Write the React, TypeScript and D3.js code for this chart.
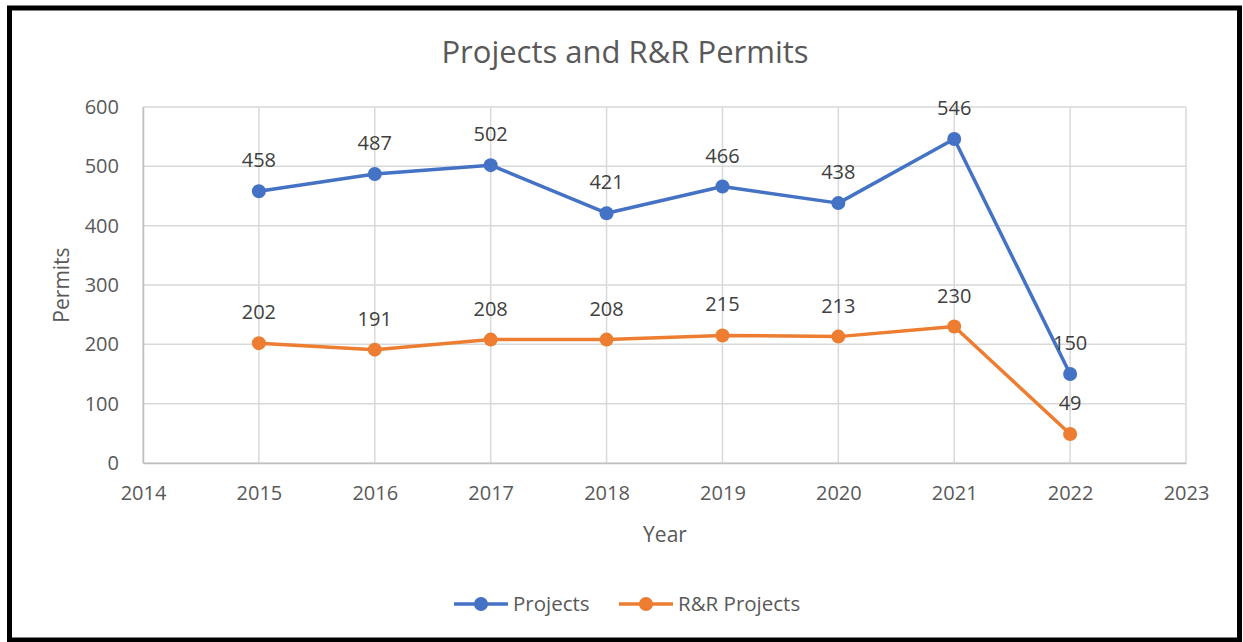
import * as d3 from "d3";
import { useEffect, useRef } from "react";

// data
const years = [2015, 2016, 2017, 2018, 2019, 2020, 2021, 2022];
const projects = [458, 487, 502, 421, 466, 438, 546, 150];
const rrProjects = [202, 191, 208, 208, 215, 213, 230, 49];
const seriesNames = ["Projects", "R&R Projects"];
const yTicks = [0, 100, 200, 300, 400, 500, 600];
const xTicks = [2014, 2015, 2016, 2017, 2018, 2019, 2020, 2021, 2022, 2023];

const W = 1243;
const H = 642;
const FONT = "'Open Sans', sans-serif";

const App = () => {
  const chartRef = useRef<SVGSVGElement | null>(null);

  useEffect(() => {
    const svg = d3.select(chartRef.current);
    svg.selectAll("*").remove();

    const margin = { top: 107, bottom: 179, left: 143, right: 57 };

    const x = d3.scaleLinear().domain([2014, 2023]).range([margin.left, W - margin.right]);
    const y = d3.scaleLinear().domain([0, 600]).range([H - margin.bottom, margin.top]);

    // background + black frame
    svg.append("rect").attr("width", W).attr("height", H).attr("fill", "white");
    svg.append("rect")
      .attr("x", 9.5).attr("y", 8).attr("width", 1230).attr("height", 632)
      .attr("fill", "none").attr("stroke", "black").attr("stroke-width", 5);

    // grid
    const grid = svg.append("g");
    grid.selectAll(".hg").data(yTicks).enter().append("line")
      .attr("x1", x(2014)).attr("x2", x(2023))
      .attr("y1", d => y(d)).attr("y2", d => y(d))
      .attr("stroke", "#d9d9d9").attr("stroke-width", 1.5);
    grid.selectAll(".vg").data(xTicks).enter().append("line")
      .attr("x1", d => x(d)).attr("x2", d => x(d))
      .attr("y1", y(0)).attr("y2", y(600))
      .attr("stroke", "#d9d9d9").attr("stroke-width", 1.5);

    // axes
    const yAxis = d3.axisLeft(y).tickValues(yTicks).tickSize(0).tickPadding(24);
    const gy = svg.append("g").attr("transform", `translate(${x(2014)},0)`).call(yAxis);
    gy.select(".domain").attr("stroke", "#bfbfbf").attr("stroke-width", 1.5);
    gy.selectAll("text").attr("font-family", FONT).attr("font-size", 20).attr("fill", "#595959");

    const xAxis = d3.axisBottom(x).tickValues(xTicks).tickFormat(d3.format("d")).tickSize(0).tickPadding(23);
    const gx = svg.append("g").attr("transform", `translate(0,${y(0)})`).call(xAxis);
    gx.select(".domain").attr("stroke", "#bfbfbf").attr("stroke-width", 1.5);
    gx.selectAll("text").attr("font-family", FONT).attr("font-size", 20).attr("fill", "#595959");

    // titles
    svg.append("text").attr("x", 625).attr("y", 63).attr("text-anchor", "middle")
      .attr("font-family", FONT).attr("font-size", 31).attr("fill", "#595959")
      .text("Projects and R&R Permits");
    svg.append("text").attr("x", 665).attr("y", 542).attr("text-anchor", "middle")
      .attr("font-family", FONT).attr("font-size", 21).attr("fill", "#595959")
      .text("Year");
    svg.append("text").attr("transform", "translate(69,285) rotate(-90)").attr("text-anchor", "middle")
      .attr("font-family", FONT).attr("font-size", 21).attr("fill", "#595959")
      .text("Permits");

    const series = [
      { name: seriesNames[0], values: projects, color: "#4472C4" },
      { name: seriesNames[1], values: rrProjects, color: "#ED7D31" },
    ];

    const line = d3.line<number>().x((_, i) => x(years[i])).y(d => y(d));

    series.forEach(s => {
      svg.append("path").datum(s.values)
        .attr("d", line).attr("fill", "none")
        .attr("stroke", s.color).attr("stroke-width", 3.5).attr("stroke-linejoin", "round");
      svg.selectAll(null).data(s.values).enter().append("circle")
        .attr("cx", (_, i) => x(years[i])).attr("cy", d => y(d)).attr("r", 7)
        .attr("fill", s.color);
      svg.selectAll(null).data(s.values).enter().append("text")
        .attr("x", (_, i) => x(years[i])).attr("y", d => y(d) - 24)
        .attr("text-anchor", "middle")
        .attr("font-family", FONT).attr("font-size", 20).attr("fill", "#404040")
        .text(d => d);
    });

    // legend
    const legendX = [454, 619];
    series.forEach((s, i) => {
      const g = svg.append("g").attr("transform", `translate(${legendX[i]},604)`);
      g.append("line").attr("x1", 0).attr("x2", 54).attr("y1", 0).attr("y2", 0)
        .attr("stroke", s.color).attr("stroke-width", 3.5);
      g.append("circle").attr("cx", 27).attr("cy", 0).attr("r", 7).attr("fill", s.color);
      g.append("text").attr("x", 59).attr("y", 7)
        .attr("font-family", FONT).attr("font-size", 20.5).attr("fill", "#595959")
        .text(s.name);
    });
  }, []);

  return (
    <svg ref={chartRef} width={W} height={H}
      style={{ position: "absolute", left: 0, top: 0, display: "block" }} />
  );
};

export default App;
